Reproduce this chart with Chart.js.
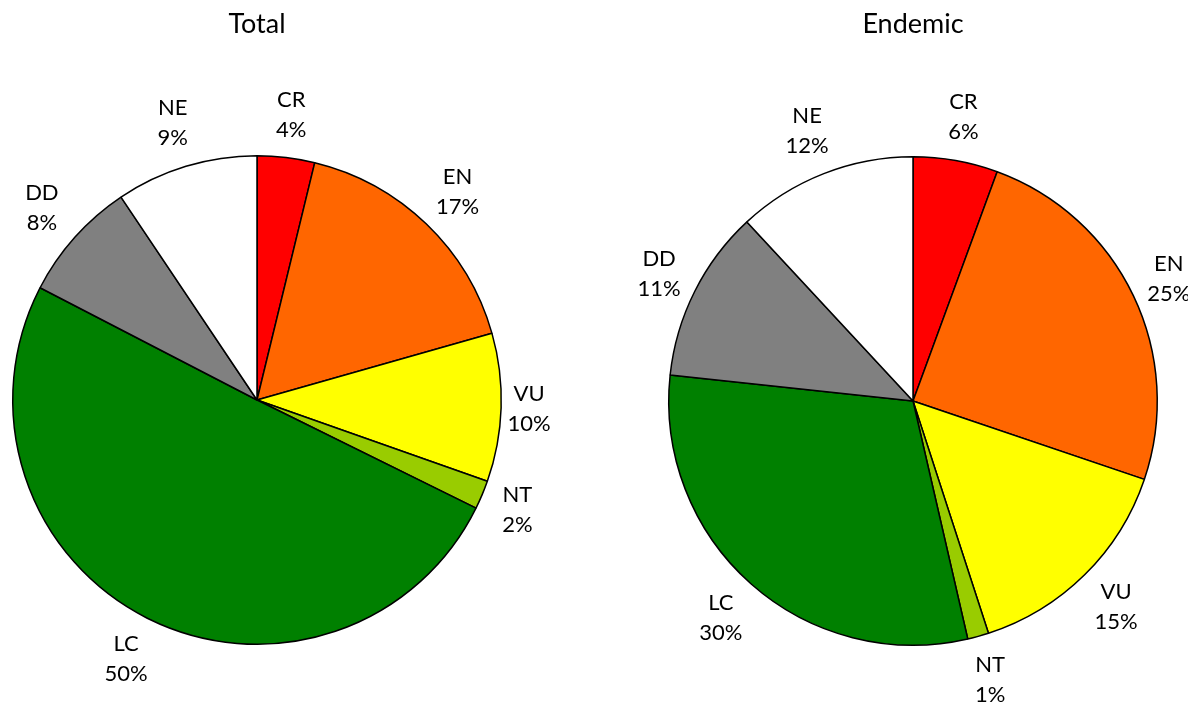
<!DOCTYPE html>
<html>
<head>
<meta charset="utf-8">
<script src="https://cdn.jsdelivr.net/npm/chart.js@4"></script>
<style>
  body { margin: 0; background: #fff; }
  .box { position: absolute; top: 0; width: 594px; height: 702px; }
</style>
</head>
<body>
<div class="box" style="left:0"><canvas id="totalChart"></canvas></div>
<div class="box" style="left:594px"><canvas id="endemicChart"></canvas></div>
<script>
const categories = ['CR', 'EN', 'VU', 'NT', 'LC', 'DD', 'NE'];
// shares in percent
const totalValues = [3.8, 16.8, 9.8, 1.9, 50.3, 8.0, 9.4];
const endemicValues = [5.6, 24.6, 14.8, 1.4, 30.3, 11.4, 11.9];
const colors = ['#ff0000', '#ff6600', '#ffff00', '#99cc00', '#008000', '#808080', '#ffffff'];
const FONT = 'Lato, "Open Sans", sans-serif';

// labels outside each slice, Excel style, plus the title above the pie
const outsideLabels = {
  id: 'outsideLabels',
  afterDatasetsDraw(chart, args, opts) {
    const ctx = chart.ctx;
    const meta = chart.getDatasetMeta(0);
    const values = chart.data.datasets[0].data;
    const sum = values.reduce((a, b) => a + b, 0);
    ctx.save();
    ctx.fillStyle = '#000';
    ctx.textAlign = 'center';
    ctx.textBaseline = 'middle';
    meta.data.forEach((arc, i) => {
      const mid = (arc.startAngle + arc.endAngle) / 2;
      const t = mid + Math.PI / 2;
      const dist = arc.outerRadius + 8 + 19 * Math.abs(Math.sin(t)) + 33 * Math.abs(Math.cos(t));
      const x = arc.x + dist * Math.cos(mid);
      const y = arc.y + dist * Math.sin(mid);
      ctx.font = '22px ' + FONT;
      ctx.fillText(chart.data.labels[i], x, y - 15);
      ctx.fillText(Math.round(values[i] / sum * 100) + '%', x, y + 15);
    });
    const a0 = meta.data[0];
    ctx.font = '27px ' + FONT;
    ctx.fillText(opts.title, a0.x, 24);
    ctx.restore();
  }
};

function makePie(id, values, title, padding) {
  new Chart(document.getElementById(id), {
    type: 'pie',
    data: {
      labels: categories,
      datasets: [{
        data: values,
        backgroundColor: colors,
        borderColor: '#000',
        borderWidth: 1.5
      }]
    },
    options: {
      responsive: true,
      maintainAspectRatio: false,
      animation: false,
      layout: { padding },
      plugins: {
        legend: { display: false },
        tooltip: { enabled: false },
        outsideLabels: { title }
      }
    },
    plugins: [outsideLabels]
  });
}

makePie('totalChart', totalValues, 'Total', { left: 12, right: 92, top: 155, bottom: 57 });
makePie('endemicChart', endemicValues, 'Endemic', { left: 74, right: 30, top: 156, bottom: 56 });
</script>
</body>
</html>
